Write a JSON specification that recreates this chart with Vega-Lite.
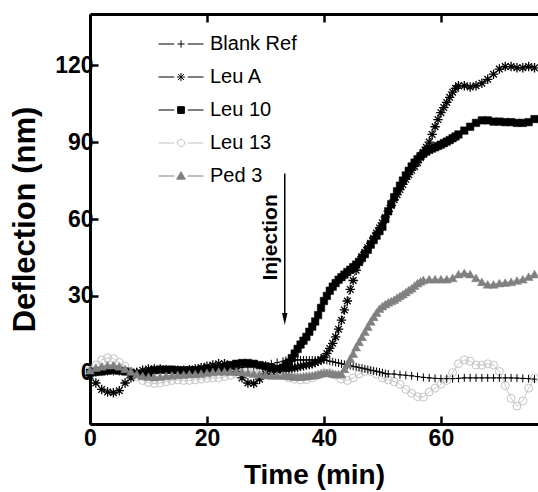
{
  "$schema": "https://vega.github.io/schema/vega-lite/v6.json",
  "width": 448,
  "height": 410,
  "autosize": {"type": "none"},
  "padding": {"left": 90, "top": 14, "right": 0, "bottom": 68},
  "background": "white",
  "config": {
    "view": {"stroke": null},
    "font": "Liberation Sans",
    "axis": {
      "grid": false,
      "domainColor": "#000",
      "domainWidth": 3,
      "tickColor": "#000",
      "tickWidth": 2.5,
      "tickSize": -8,
      "labelColor": "#000",
      "labelFont": "Liberation Sans",
      "labelFontWeight": "bold",
      "labelFontSize": 23,
      "labelFlush": false,
      "titleColor": "#000",
      "titleFont": "Liberation Sans",
      "titleFontWeight": "bold"
    },
    "legend": {
      "orient": "none",
      "legendX": 68,
      "legendY": 7,
      "padding": 0,
      "labelFont": "Liberation Sans",
      "labelFontSize": 20,
      "labelColor": "#000",
      "labelOffset": 6,
      "rowPadding": -9.5,
      "symbolOpacity": 1,
      "symbolStrokeWidth": 1,
      "symbolSize": 2025
    }
  },
  "datasets": {
    "curves": [
      {"t": 0, "Blank Ref": 0, "Leu A": -1, "Leu 10": 0, "Leu 13": 1, "Ped 3": 1},
      {"t": 1, "Blank Ref": 0, "Leu A": -4, "Leu 10": 0.3, "Leu 13": 3, "Ped 3": 2},
      {"t": 2, "Blank Ref": 0.3, "Leu A": -6.5, "Leu 10": 0.5, "Leu 13": 5, "Ped 3": 2.5},
      {"t": 3, "Blank Ref": 0.5, "Leu A": -7.5, "Leu 10": 0.8, "Leu 13": 5.8, "Ped 3": 3},
      {"t": 4, "Blank Ref": 0.5, "Leu A": -7.8, "Leu 10": 1, "Leu 13": 5.5, "Ped 3": 3},
      {"t": 5, "Blank Ref": 0.5, "Leu A": -7, "Leu 10": 0.8, "Leu 13": 4, "Ped 3": 2.5},
      {"t": 6, "Blank Ref": 0.5, "Leu A": -4, "Leu 10": 0.5, "Leu 13": 2.5, "Ped 3": 1.5},
      {"t": 7, "Blank Ref": 0.5, "Leu A": -2, "Leu 10": 0, "Leu 13": 0.5, "Ped 3": 0.5},
      {"t": 8, "Blank Ref": 0.5, "Leu A": 0, "Leu 10": -0.5, "Leu 13": -1.5, "Ped 3": -0.5},
      {"t": 9, "Blank Ref": 0.5, "Leu A": 1, "Leu 10": -1, "Leu 13": -3, "Ped 3": -1.2},
      {"t": 10, "Blank Ref": 0.5, "Leu A": 1.5, "Leu 10": 0, "Leu 13": -3.8, "Ped 3": -1.5},
      {"t": 11, "Blank Ref": 0.5, "Leu A": 1.5, "Leu 10": 1, "Leu 13": -4.2, "Ped 3": -1.7},
      {"t": 12, "Blank Ref": 0.5, "Leu A": 1.5, "Leu 10": 1.2, "Leu 13": -4, "Ped 3": -1.5},
      {"t": 13, "Blank Ref": 0.5, "Leu A": 1.2, "Leu 10": 1.2, "Leu 13": -3.5, "Ped 3": -1.2},
      {"t": 14, "Blank Ref": 0.5, "Leu A": 1, "Leu 10": 1.2, "Leu 13": -3, "Ped 3": -1},
      {"t": 15, "Blank Ref": 0.5, "Leu A": 1, "Leu 10": 1, "Leu 13": -2.8, "Ped 3": -0.8},
      {"t": 16, "Blank Ref": 0.5, "Leu A": 1, "Leu 10": 1, "Leu 13": -3, "Ped 3": -0.7},
      {"t": 17, "Blank Ref": 0.5, "Leu A": 1.2, "Leu 10": 1, "Leu 13": -3, "Ped 3": -0.5},
      {"t": 18, "Blank Ref": 0.8, "Leu A": 1.5, "Leu 10": 1, "Leu 13": -2.8, "Ped 3": -0.5},
      {"t": 19, "Blank Ref": 1, "Leu A": 2, "Leu 10": 1.2, "Leu 13": -2.5, "Ped 3": -0.3},
      {"t": 20, "Blank Ref": 1, "Leu A": 2.5, "Leu 10": 1.5, "Leu 13": -2.2, "Ped 3": 0},
      {"t": 21, "Blank Ref": 1, "Leu A": 3, "Leu 10": 1.5, "Leu 13": -2, "Ped 3": 0.3},
      {"t": 22, "Blank Ref": 1, "Leu A": 3.5, "Leu 10": 1.8, "Leu 13": -2, "Ped 3": 0.5},
      {"t": 23, "Blank Ref": 1.2, "Leu A": 3.5, "Leu 10": 2, "Leu 13": -1.5, "Ped 3": 0.5},
      {"t": 24, "Blank Ref": 1.5, "Leu A": 2.5, "Leu 10": 3, "Leu 13": -1, "Ped 3": 0.5},
      {"t": 25, "Blank Ref": 1.8, "Leu A": 0.5, "Leu 10": 3.5, "Leu 13": -0.5, "Ped 3": 0.5},
      {"t": 26, "Blank Ref": 2, "Leu A": -2, "Leu 10": 3.8, "Leu 13": 0, "Ped 3": 0.3},
      {"t": 27, "Blank Ref": 2.2, "Leu A": -4, "Leu 10": 3.8, "Leu 13": 0.5, "Ped 3": 0},
      {"t": 28, "Blank Ref": 2.5, "Leu A": -4.2, "Leu 10": 3.5, "Leu 13": 0.5, "Ped 3": -0.3},
      {"t": 29, "Blank Ref": 2.8, "Leu A": -2.5, "Leu 10": 3, "Leu 13": 0, "Ped 3": -0.5},
      {"t": 30, "Blank Ref": 3, "Leu A": -0.5, "Leu 10": 2.5, "Leu 13": -0.5, "Ped 3": -0.8},
      {"t": 31, "Blank Ref": 3.5, "Leu A": 0.5, "Leu 10": 2, "Leu 13": -1, "Ped 3": -1},
      {"t": 32, "Blank Ref": 4, "Leu A": 1, "Leu 10": 1.5, "Leu 13": -1, "Ped 3": -1},
      {"t": 33, "Blank Ref": 4.5, "Leu A": 1.2, "Leu 10": 2, "Leu 13": -1, "Ped 3": -1},
      {"t": 33.5, "Blank Ref": 4.8, "Leu A": 1.3, "Leu 10": 2.8, "Ped 3": -1},
      {"t": 34, "Blank Ref": 5, "Leu A": 1.5, "Leu 10": 4, "Leu 13": -2, "Ped 3": -1.2},
      {"t": 34.5, "Blank Ref": 5, "Leu A": 1.7, "Leu 10": 5.7, "Ped 3": -1.3},
      {"t": 35, "Blank Ref": 5, "Leu A": 2, "Leu 10": 7.5, "Leu 13": -2.5, "Ped 3": -1.5},
      {"t": 35.5, "Blank Ref": 5, "Leu A": 2.2, "Leu 10": 9.3, "Ped 3": -1.5},
      {"t": 36, "Blank Ref": 5, "Leu A": 2.5, "Leu 10": 11, "Leu 13": -2.8, "Ped 3": -1.5},
      {"t": 36.5, "Blank Ref": 5, "Leu A": 2.7, "Leu 10": 12.5, "Ped 3": -1.4},
      {"t": 37, "Blank Ref": 5, "Leu A": 3, "Leu 10": 14, "Leu 13": -2.7, "Ped 3": -1.2},
      {"t": 37.5, "Blank Ref": 5, "Leu A": 3.2, "Leu 10": 16, "Ped 3": -1.1},
      {"t": 38, "Blank Ref": 5, "Leu A": 3.5, "Leu 10": 18, "Leu 13": -2, "Ped 3": -1},
      {"t": 38.5, "Blank Ref": 5, "Leu A": 4, "Leu 10": 20, "Ped 3": -0.8},
      {"t": 39, "Blank Ref": 5, "Leu A": 4.5, "Leu 10": 22.5, "Leu 13": -1, "Ped 3": -0.5},
      {"t": 39.5, "Blank Ref": 5, "Leu A": 5, "Leu 10": 25.3, "Ped 3": -0.2},
      {"t": 40, "Blank Ref": 5, "Leu A": 6, "Leu 10": 28, "Leu 13": 0, "Ped 3": 0},
      {"t": 40.5, "Blank Ref": 4.8, "Leu A": 7.5, "Leu 10": 30, "Ped 3": 0},
      {"t": 41, "Blank Ref": 4.5, "Leu A": 9.5, "Leu 10": 32, "Leu 13": 0, "Ped 3": 0},
      {"t": 41.5, "Blank Ref": 4.3, "Leu A": 11.5, "Leu 10": 33.6, "Ped 3": -0.3},
      {"t": 42, "Blank Ref": 4, "Leu A": 14, "Leu 10": 35, "Leu 13": -1, "Ped 3": -0.5},
      {"t": 42.5, "Blank Ref": 3.8, "Leu A": 17, "Leu 10": 36.3, "Ped 3": -0.5},
      {"t": 43, "Blank Ref": 3.5, "Leu A": 20.5, "Leu 10": 37.3, "Leu 13": -2.5, "Ped 3": -0.5},
      {"t": 43.5, "Blank Ref": 3.3, "Leu A": 24.5, "Leu 10": 38.3, "Ped 3": 1.5},
      {"t": 44, "Blank Ref": 3, "Leu A": 28, "Leu 10": 39.3, "Leu 13": -3, "Ped 3": 3.5},
      {"t": 44.5, "Blank Ref": 2.8, "Leu A": 32.5, "Leu 10": 40.2, "Ped 3": 5.5},
      {"t": 45, "Blank Ref": 2.5, "Leu A": 36, "Leu 10": 41.2, "Leu 13": -2, "Ped 3": 7.5},
      {"t": 45.5, "Blank Ref": 2.3, "Leu A": 40, "Leu 10": 42.2, "Ped 3": 10},
      {"t": 46, "Blank Ref": 2, "Leu A": 43, "Leu 10": 43.3, "Leu 13": -0.5, "Ped 3": 12},
      {"t": 46.5, "Blank Ref": 1.8, "Leu A": 45.3, "Leu 10": 44.8, "Ped 3": 14},
      {"t": 47, "Blank Ref": 1.5, "Leu A": 47, "Leu 10": 46.3, "Leu 13": 0.5, "Ped 3": 16},
      {"t": 47.5, "Blank Ref": 1.3, "Leu A": 48.8, "Leu 10": 48, "Ped 3": 18},
      {"t": 48, "Blank Ref": 1, "Leu A": 50.5, "Leu 10": 50, "Leu 13": 0.5, "Ped 3": 20},
      {"t": 48.5, "Blank Ref": 0.8, "Leu A": 52.5, "Leu 10": 51.8, "Ped 3": 21.8},
      {"t": 49, "Blank Ref": 0.5, "Leu A": 54.5, "Leu 10": 53.5, "Leu 13": -0.5, "Ped 3": 23.5},
      {"t": 49.5, "Blank Ref": 0.3, "Leu A": 56.5, "Leu 10": 55.3, "Ped 3": 25},
      {"t": 50, "Blank Ref": 0, "Leu A": 58.5, "Leu 10": 57, "Leu 13": -2, "Ped 3": 26},
      {"t": 50.5, "Blank Ref": -0.3, "Leu A": 60.7, "Leu 10": 60, "Ped 3": 26.8},
      {"t": 51, "Blank Ref": -0.5, "Leu A": 63, "Leu 10": 63, "Leu 13": -2.8, "Ped 3": 27.5},
      {"t": 51.5, "Leu A": 65.3, "Leu 10": 65.8, "Ped 3": 28},
      {"t": 52, "Blank Ref": -0.5, "Leu A": 67.5, "Leu 10": 68.5, "Leu 13": -3.5, "Ped 3": 28.5},
      {"t": 52.5, "Leu A": 69.5, "Leu 10": 70.8, "Ped 3": 29.3},
      {"t": 53, "Blank Ref": -0.8, "Leu A": 71.5, "Leu 10": 73, "Leu 13": -4.5, "Ped 3": 30},
      {"t": 53.5, "Leu A": 73.5, "Leu 10": 75, "Ped 3": 30.7},
      {"t": 54, "Blank Ref": -1, "Leu A": 75.5, "Leu 10": 77, "Leu 13": -6.5, "Ped 3": 31.5},
      {"t": 54.5, "Leu A": 77.3, "Leu 10": 78.8, "Ped 3": 32.3},
      {"t": 55, "Blank Ref": -1.2, "Leu A": 79, "Leu 10": 80.5, "Leu 13": -8, "Ped 3": 33},
      {"t": 55.5, "Leu A": 80.5, "Leu 10": 82, "Ped 3": 34},
      {"t": 56, "Blank Ref": -1.5, "Leu A": 82, "Leu 10": 83.3, "Leu 13": -9.3, "Ped 3": 35},
      {"t": 56.5, "Leu A": 84, "Leu 10": 84.5, "Ped 3": 35.7},
      {"t": 57, "Blank Ref": -1.8, "Leu A": 86, "Leu 10": 85.5, "Leu 13": -9.5, "Ped 3": 36.2},
      {"t": 57.5, "Leu A": 88, "Leu 10": 86.3},
      {"t": 58, "Blank Ref": -2, "Leu A": 90, "Leu 10": 87, "Leu 13": -7.5, "Ped 3": 36.5},
      {"t": 58.5, "Leu A": 93, "Leu 10": 87.5},
      {"t": 59, "Blank Ref": -2.2, "Leu A": 96, "Leu 10": 88, "Leu 13": -6, "Ped 3": 36.5},
      {"t": 59.5, "Leu A": 98.8, "Leu 10": 88.5},
      {"t": 60, "Blank Ref": -2.3, "Leu A": 101.5, "Leu 10": 89, "Leu 13": -4.5, "Ped 3": 36.5},
      {"t": 60.5, "Leu A": 103.5, "Leu 10": 89.6},
      {"t": 61, "Blank Ref": -2.3, "Leu A": 105.5, "Leu 10": 90.2, "Leu 13": -3, "Ped 3": 36.5},
      {"t": 61.5, "Leu A": 107.5, "Leu 10": 90.8},
      {"t": 62, "Blank Ref": -2.3, "Leu A": 109.5, "Leu 10": 91.5, "Leu 13": 0, "Ped 3": 37},
      {"t": 62.5, "Leu A": 111, "Leu 10": 92.2},
      {"t": 63, "Blank Ref": -2.2, "Leu A": 112, "Leu 10": 93, "Leu 13": 3.5, "Ped 3": 38.5},
      {"t": 64, "Blank Ref": -2, "Leu A": 112, "Leu 10": 94.5, "Leu 13": 5, "Ped 3": 39},
      {"t": 65, "Blank Ref": -2, "Leu A": 111.5, "Leu 10": 96, "Leu 13": 4.5, "Ped 3": 38.5},
      {"t": 66, "Blank Ref": -2, "Leu A": 112, "Leu 10": 97.5, "Leu 13": 3, "Ped 3": 37},
      {"t": 67, "Blank Ref": -2, "Leu A": 113, "Leu 10": 98.5, "Leu 13": 3, "Ped 3": 35.5},
      {"t": 68, "Blank Ref": -2, "Leu A": 114.5, "Leu 10": 98.5, "Leu 13": 3.5, "Ped 3": 34.5},
      {"t": 69, "Blank Ref": -2, "Leu A": 116.5, "Leu 10": 98, "Leu 13": 3, "Ped 3": 34.5},
      {"t": 70, "Blank Ref": -2, "Leu A": 118.5, "Leu 10": 98, "Leu 13": 0.5, "Ped 3": 35},
      {"t": 71, "Blank Ref": -2, "Leu A": 119.5, "Leu 10": 97.8, "Leu 13": -5, "Ped 3": 35.2},
      {"t": 72, "Blank Ref": -2, "Leu A": 119.5, "Leu 10": 97.8, "Leu 13": -10, "Ped 3": 35.5},
      {"t": 73, "Blank Ref": -2.1, "Leu A": 119, "Leu 10": 97.5, "Leu 13": -13, "Ped 3": 36},
      {"t": 74, "Blank Ref": -2.2, "Leu A": 119, "Leu 10": 97.5, "Leu 13": -11, "Ped 3": 36.5},
      {"t": 75, "Blank Ref": -2.3, "Leu A": 119.5, "Leu 10": 97.8, "Leu 13": -6, "Ped 3": 37.5},
      {"t": 76, "Blank Ref": -2.5, "Leu A": 119, "Leu 10": 99, "Leu 13": -2, "Ped 3": 38.5}
    ]
  },
  "layer": [
    {
      "data": {"name": "curves"},
      "transform": [
        {"fold": ["Blank Ref", "Leu A", "Leu 10", "Leu 13", "Ped 3"], "as": ["series", "v"]},
        {"filter": "datum.v != null"}
      ],
      "mark": {"type": "line", "strokeWidth": 1},
      "encoding": {
        "x": {"field": "t", "type": "quantitative", "scale": {"domain": [0, 76.6], "nice": false},
          "axis": {"orient": "bottom", "values": [0, 20, 40, 60], "title": "Time (min)", "titleFontSize": 28, "labelPadding": 11, "titlePadding": 11}},
        "y": {"field": "v", "type": "quantitative", "scale": {"domain": [-20, 140], "nice": false},
          "axis": {"orient": "left", "values": [0, 30, 60, 90, 120], "title": "Deflection (nm)", "titleFontSize": 31, "labelPadding": 5, "titlePadding": 13}},
        "color": {"field": "series", "type": "nominal", "legend": null,
          "scale": {"domain": ["Blank Ref", "Leu A", "Leu 10", "Leu 13", "Ped 3"], "range": ["#000000", "#000000", "#000000", "#c4c4c4", "#808080"]}},
        "strokeDash": {"field": "series", "type": "nominal", "legend": null,
          "scale": {"domain": ["Blank Ref", "Leu A", "Leu 10", "Leu 13", "Ped 3"], "range": [[1, 0], [2, 2], [1, 0], [1, 0], [1, 0]]}}
      }
    },
    {
      "data": {"name": "curves"},
      "transform": [
        {"fold": ["Leu 13"], "as": ["series", "v"]},
        {"filter": "datum.v != null"}
      ],
      "mark": {"type": "point", "shape": "circle", "size": 64, "filled": false, "stroke": "#c4c4c4", "fill": "transparent", "strokeWidth": 1, "opacity": 1},
      "encoding": {
        "x": {"field": "t", "type": "quantitative",
          "axis": {"orient": "top", "values": [0, 20, 40, 60], "labels": false, "title": null}},
        "y": {"field": "v", "type": "quantitative", "axis": null}
      }
    },
    {
      "data": {"name": "curves"},
      "transform": [
        {"fold": ["Leu 10"], "as": ["series", "v"]},
        {"filter": "datum.v != null"}
      ],
      "mark": {"type": "point", "shape": "square", "size": 56, "filled": true, "fill": "#000", "stroke": "#000", "strokeWidth": 0.5, "opacity": 1},
      "encoding": {
        "x": {"field": "t", "type": "quantitative", "axis": null},
        "y": {"field": "v", "type": "quantitative", "axis": null}
      }
    },
    {
      "data": {"name": "curves"},
      "transform": [
        {"fold": ["Leu A"], "as": ["series", "v"]},
        {"filter": "datum.v != null"}
      ],
      "mark": {"type": "point", "shape": "M-1,0H1M0,-1V1M-0.7,-0.7L0.7,0.7M-0.7,0.7L0.7,-0.7", "size": 90, "filled": false, "stroke": "#000", "strokeWidth": 1.3, "opacity": 1},
      "encoding": {
        "x": {"field": "t", "type": "quantitative", "axis": null},
        "y": {"field": "v", "type": "quantitative", "axis": null}
      }
    },
    {
      "data": {"name": "curves"},
      "transform": [
        {"fold": ["Blank Ref"], "as": ["series", "v"]},
        {"filter": "datum.v != null"}
      ],
      "mark": {"type": "point", "shape": "M-0.6,0H0.6M0,-1V1", "size": 64, "filled": false, "stroke": "#000", "strokeWidth": 1, "opacity": 1},
      "encoding": {
        "x": {"field": "t", "type": "quantitative", "axis": null},
        "y": {"field": "v", "type": "quantitative", "axis": null}
      }
    },
    {
      "data": {"name": "curves"},
      "transform": [
        {"fold": ["Ped 3"], "as": ["series", "v"]},
        {"filter": "datum.v != null"}
      ],
      "mark": {"type": "point", "shape": "triangle-up", "size": 80, "filled": true, "fill": "#808080", "stroke": "#808080", "strokeWidth": 0.5, "opacity": 1},
      "encoding": {
        "x": {"field": "t", "type": "quantitative", "axis": null},
        "y": {"field": "v", "type": "quantitative", "axis": null}
      }
    },
    {
      "data": {"name": "curves"},
      "transform": [
        {"fold": ["Blank Ref", "Leu A", "Leu 10", "Leu 13", "Ped 3"], "as": ["series", "v"]},
        {"filter": "datum.v != null"}
      ],
      "mark": {"type": "point", "filled": false, "opacity": 0, "size": 2025, "strokeWidth": 1},
      "encoding": {
        "x": {"field": "t", "type": "quantitative", "axis": null},
        "y": {"field": "v", "type": "quantitative", "axis": null},
        "shape": {"field": "series", "type": "nominal",
          "scale": {"domain": ["Blank Ref", "Leu A", "Leu 10", "Leu 13", "Ped 3"],
            "range": [
              "M-1,0H-0.3M0.3,0H1M-0.16,0H0.16M0,-0.16V0.16",
              "M-1,0H-0.3M0.3,0H1M-0.18,0H0.18M0,-0.18V0.18M-0.13,-0.13L0.13,0.13M-0.13,0.13L0.13,-0.13",
              "M-1,0H-0.3M0.3,0H1M-0.15,-0.15H0.15V0.15H-0.15Z",
              "M-1,0H-0.3M0.3,0H1M-0.16,0A0.16,0.16,0,1,0,0.16,0A0.16,0.16,0,1,0,-0.16,0Z",
              "M-1,0H-0.3M0.3,0H1M0,-0.19L0.19,0.14H-0.19Z"
            ]},
          "legend": {"title": null, "symbolSize": 2025}
        },
        "stroke": {"field": "series", "type": "nominal", "legend": {"title": null, "symbolSize": 2025},
          "scale": {"domain": ["Blank Ref", "Leu A", "Leu 10", "Leu 13", "Ped 3"], "range": ["#000000", "#000000", "#000000", "#c4c4c4", "#808080"]}},
        "fill": {"field": "series", "type": "nominal", "legend": {"title": null, "symbolSize": 2025},
          "scale": {"domain": ["Blank Ref", "Leu A", "Leu 10", "Leu 13", "Ped 3"], "range": ["transparent", "transparent", "#000000", "transparent", "#808080"]}}
      }
    },
    {
      "data": {"values": [{"t": 33.3, "v": 77.8, "v2": 21}]},
      "mark": {"type": "rule", "color": "#000", "strokeWidth": 1.5},
      "encoding": {
        "x": {"field": "t", "type": "quantitative", "axis": null},
        "y": {"field": "v", "type": "quantitative", "axis": null},
        "y2": {"field": "v2"}
      }
    },
    {
      "data": {"values": [{"t": 33.3, "v": 21}]},
      "mark": {"type": "point", "shape": "M-0.45,-1L0,1L0.45,-1Z", "size": 144, "filled": true, "color": "#000", "opacity": 1},
      "encoding": {
        "x": {"field": "t", "type": "quantitative", "axis": null},
        "y": {"field": "v", "type": "quantitative", "axis": null}
      }
    },
    {
      "data": {"values": [{"t": 30.9, "v": 52.8, "label": "Injection"}]},
      "mark": {"type": "text", "angle": 270, "font": "Liberation Sans", "fontWeight": "bold", "fontSize": 21, "align": "center", "baseline": "middle", "color": "#000"},
      "encoding": {
        "x": {"field": "t", "type": "quantitative", "axis": null},
        "y": {"field": "v", "type": "quantitative", "axis": null},
        "text": {"field": "label"}
      }
    }
  ],
  "resolve": {
    "scale": {"shape": "independent", "fill": "independent", "stroke": "independent"},
    "axis": {"x": "independent", "y": "independent"}
  }
}
